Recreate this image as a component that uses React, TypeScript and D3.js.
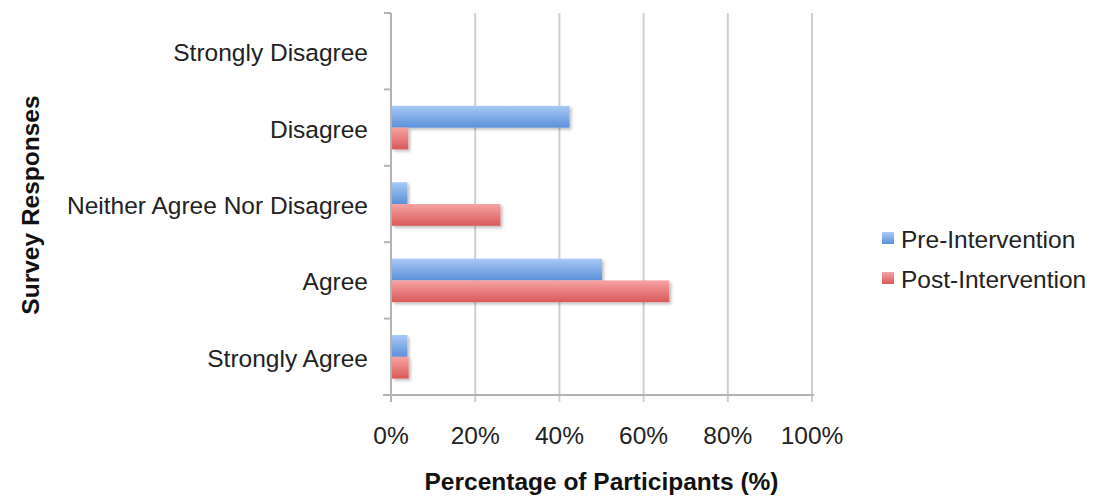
import { useEffect, useRef } from 'react';
import * as d3 from 'd3';

const categories = ['Strongly Disagree', 'Disagree', 'Neither Agree Nor Disagree', 'Agree', 'Strongly Agree'];
const preValues = [0, 42.4, 3.9, 50.1, 3.9];
const postValues = [0, 4.1, 26, 66.1, 4.2];
const seriesNames = ['Pre-Intervention', 'Post-Intervention'];
const xTicks = [0, 20, 40, 60, 80, 100];

const App = () => {
  const svgRef = useRef<SVGSVGElement>(null);

  useEffect(() => {
    const width = 1094;
    const height = 496;
    const margin = { top: 13, right: 282, bottom: 101, left: 391 };

    const root = d3.select(svgRef.current);
    root.selectAll('*').remove();
    root.attr('width', width).attr('height', height);

    const defs = root.append('defs');
    const grads = [
      { id: 'gradPre', top: '#a9c9f6', bottom: '#5b90d9' },
      { id: 'gradPost', top: '#f7a3a3', bottom: '#d9595a' },
    ];
    grads.forEach(g => {
      const lg = defs.append('linearGradient').attr('id', g.id)
        .attr('x1', 0).attr('y1', 0).attr('x2', 0).attr('y2', 1);
      lg.append('stop').attr('offset', '0%').attr('stop-color', g.top);
      lg.append('stop').attr('offset', '100%').attr('stop-color', g.bottom);
    });
    const shadow = defs.append('filter').attr('id', 'shadow')
      .attr('x', '-10%').attr('y', '-20%').attr('width', '130%').attr('height', '160%');
    shadow.append('feDropShadow').attr('dx', 2).attr('dy', 2).attr('stdDeviation', 1.5)
      .attr('flood-color', '#000').attr('flood-opacity', 0.25);

    const innerW = width - margin.left - margin.right;
    const innerH = height - margin.top - margin.bottom;

    const svg = root.append('g')
      .attr('transform', 'translate(' + margin.left + ',' + margin.top + ')');

    const xScale = d3.scaleLinear().domain([0, 100]).range([0, innerW]);
    const yScale = d3.scaleBand().domain(categories).range([0, innerH]).paddingInner(0.43).paddingOuter(0.215);
    const ySub = d3.scaleBand().domain(seriesNames).range([0, yScale.bandwidth()]);

    // grid lines
    svg.append('g').selectAll('line')
      .data(xTicks.slice(1))
      .enter().append('line')
      .attr('x1', d => xScale(d)).attr('x2', d => xScale(d))
      .attr('y1', 0).attr('y2', innerH + 7)
      .attr('stroke', '#cfcfcf').attr('stroke-width', 2);

    // y axis line and ticks
    const axisColor = '#b3b3b3';
    svg.append('line').attr('x1', 0).attr('x2', 0).attr('y1', 0).attr('y2', innerH + 7)
      .attr('stroke', axisColor).attr('stroke-width', 2);
    const step = innerH / categories.length;
    svg.append('g').selectAll('line')
      .data(d3.range(categories.length + 1))
      .enter().append('line')
      .attr('x1', -7).attr('x2', 0)
      .attr('y1', d => d * step).attr('y2', d => d * step)
      .attr('stroke', axisColor).attr('stroke-width', 2);
    // x axis line
    svg.append('line').attr('x1', -8).attr('x2', innerW + 2).attr('y1', innerH).attr('y2', innerH)
      .attr('stroke', axisColor).attr('stroke-width', 2);

    const font = 'Liberation Sans, Arial, Helvetica, sans-serif';
    const fs = 24.5;

    // tick labels
    svg.append('g').selectAll('text')
      .data(xTicks)
      .enter().append('text')
      .attr('x', d => xScale(d))
      .attr('y', innerH + 49)
      .attr('text-anchor', 'middle')
      .attr('font-family', font).attr('font-size', fs).attr('fill', '#222')
      .text(d => d + '%');

    svg.append('g').selectAll('text')
      .data(categories)
      .enter().append('text')
      .attr('x', -23)
      .attr('y', d => (yScale(d) ?? 0) + yScale.bandwidth() / 2 + 1.5)
      .attr('dy', '0.35em')
      .attr('text-anchor', 'end')
      .attr('font-family', font).attr('font-size', fs).attr('fill', '#222')
      .text(d => d);

    // bars
    const rows = categories.map((c, i) => ({ c, values: [preValues[i], postValues[i]] }));
    const groups = svg.selectAll('.bar')
      .data(rows)
      .enter().append('g')
      .attr('class', 'bar')
      .attr('transform', d => 'translate(0,' + (yScale(d.c) ?? 0) + ')');
    groups.selectAll('rect')
      .data(d => d.values.map((v, i) => ({ v, s: seriesNames[i], i })))
      .enter().append('rect')
      .filter(d => d.v > 0)
      .attr('x', 1)
      .attr('y', d => ySub(d.s) ?? 0)
      .attr('width', d => xScale(d.v) - 1)
      .attr('height', ySub.bandwidth())
      .attr('fill', d => d.i === 0 ? 'url(#gradPre)' : 'url(#gradPost)')
      .attr('filter', 'url(#shadow)');

    // axis titles
    root.append('text')
      .attr('x', margin.left + innerW / 2)
      .attr('y', 490)
      .attr('text-anchor', 'middle')
      .attr('font-family', font).attr('font-size', fs).attr('font-weight', 'bold').attr('fill', '#111')
      .text('Percentage of Participants (%)');
    root.append('text')
      .attr('transform', 'translate(39,205) rotate(-90)')
      .attr('text-anchor', 'middle')
      .attr('font-family', font).attr('font-size', fs).attr('font-weight', 'bold').attr('fill', '#111')
      .text('Survey Responses');

    // legend
    const legend = root.append('g').attr('transform', 'translate(882,232)');
    seriesNames.forEach((name, i) => {
      const g = legend.append('g').attr('transform', 'translate(0,' + i * 40 + ')');
      g.append('rect').attr('width', 12).attr('height', 12)
        .attr('fill', i === 0 ? 'url(#gradPre)' : 'url(#gradPost)');
      g.append('text').attr('x', 19).attr('y', 7).attr('dy', '0.35em')
        .attr('font-family', font).attr('font-size', fs).attr('fill', '#222')
        .text(name);
    });
  }, []);

  return <svg ref={svgRef} style={{ position: 'absolute', left: 0, top: 0 }}></svg>;
};

export default App;
